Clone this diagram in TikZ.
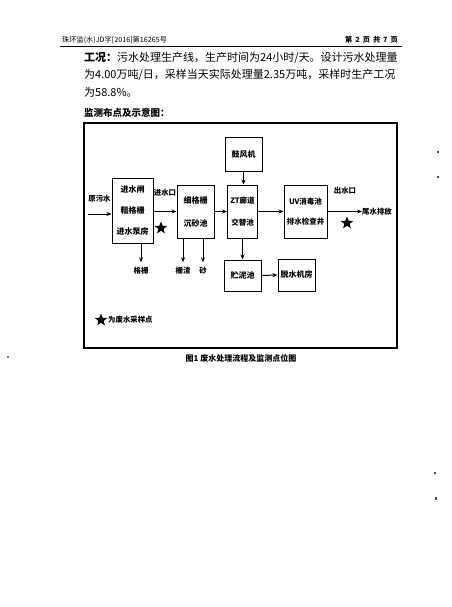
\documentclass[tikz,border=0pt]{standalone}
\usepackage{fontspec}
\setmainfont{Noto Sans CJK SC}
\usetikzlibrary{arrows.meta,shapes.geometric,calc}
\begin{document}
\begin{tikzpicture}[x=1pt,y=-1pt,
  box/.style={draw,line width=1pt,inner sep=0pt,align=center,font=\fontsize{8}{12.5}\selectfont\bfseries},
  lbl/.style={inner sep=1pt,font=\fontsize{7.4}{9}\selectfont\bfseries},
  arr/.style={line width=1pt,-{Stealth[length=5pt,width=4pt]}},
  samplestar/.style={star,star points=5,star point ratio=2.3,fill=black,inner sep=0pt,minimum size=13pt},
  body/.style={anchor=west,inner sep=0pt,font=\fontsize{11}{13}\selectfont}]
\useasboundingbox (0,0) rectangle (451,607);
\fill[white] (0,0) rectangle (451,607);
% header
\node[anchor=west,inner sep=0pt,font=\fontsize{7.2}{9}\selectfont] (hl) at (62,40) {珠环监(水)JD字[2016]第16265号};
\node[anchor=east,inner sep=0pt,font=\fontsize{7.2}{9}\selectfont\bfseries] (hr) at (398,40) {第\hspace{3pt}2\hspace{3pt}页\hspace{3pt}共\hspace{3pt}7\hspace{3pt}页};
\draw[line width=1pt] (60,47) -- (402,47);
% body
\node[body] (b1) at (84,58) {\textbf{工况：}污水处理生产线，生产时间为24小时/天。设计污水处理量};
\node[body] (b2) at (84,75) {为4.00万吨/日，采样当天实际处理量2.35万吨，采样时生产工况};
\node[body] (b3) at (84,92) {为58.8\%。};
\node[body,font=\fontsize{9.5}{11}\selectfont\bfseries] (hd) at (84,113) {监测布点及示意图：};
% frame
\draw[line width=1.2pt] (84,123) rectangle (397,348);
% boxes
\node[box,minimum width=41pt,minimum height=65pt,font=\fontsize{8}{21}\selectfont\bfseries] (inlet) at (132.5,210.5) {进水闸\\粗格栅\\进水泵房};
\node[box,minimum width=37pt,minimum height=53pt,font=\fontsize{8}{23}\selectfont\bfseries] (fine) at (195.5,211.5) {细格栅\\沉砂池};
\node[box,minimum width=30pt,minimum height=53pt,font=\fontsize{7.5}{22}\selectfont\bfseries] (zt) at (242.5,211.5) {ZT廊道\\交替池};
\node[box,minimum width=37pt,minimum height=34pt] (blower) at (243.5,154) {鼓风机};
\node[box,minimum width=43pt,minimum height=53pt,font=\fontsize{7.5}{20}\selectfont\bfseries] (uv) at (305.5,211.5) {UV消毒池\\排水检查井};
\node[box,minimum width=37pt,minimum height=31pt] (sludge) at (242.5,275.5) {贮泥池};
\node[box,minimum width=37pt,minimum height=32pt] (dewater) at (296.5,275) {脱水机房};
% labels
\node[lbl] (raw) at (99.5,199) {原污水};
\node[lbl] (inport) at (165,193) {进水口};
\node[lbl] (outport) at (345,191) {出水口};
\coordinate (rawin) at (88,214);
\coordinate (outend) at (362,211.5);
\node[lbl,anchor=west,inner sep=0pt] (tail) at (outend) {尾水排放};
\node[lbl] (gs) at (141,271) {格栅};
\node[lbl] (sz) at (183,271) {栅渣};
\node[lbl] (sa) at (203,271) {砂};
% connectors
\draw[arr] (rawin) -- (rawin -| inlet.west);
\draw[arr] (inlet.east |- fine.center) -- (fine.west);
\draw[arr] (fine.east) -- (zt.west);
\draw[arr] (zt.east) -- (uv.west);
\draw[arr] (uv.east) -- (outend);
\draw[arr] (blower.south) -- (blower.south |- zt.north);
\draw[arr,shorten >=4pt] (inlet.south -| gs.north) -- (gs.north);
\draw[arr,shorten >=4pt] (fine.south -| sz.north) -- (sz.north);
\draw[arr,shorten >=4pt] (fine.south -| sa.north) -- (sa.north);
\draw[arr] (zt.south) -- (sludge.north);
\draw[arr] (sludge.east) -- (dewater.west);
% sampling stars
\node[samplestar] (s1) at (161,228) {};
\node[samplestar] (s2) at (347,223) {};
\node[samplestar] (s3) at (101,320) {};
\node[lbl,anchor=west] (legend) at (107,320) {为废水采样点};
% caption
\node[inner sep=0pt,font=\fontsize{8}{10}\selectfont\bfseries] (cap) at (241,358) {图1\ 废水处理流程及监测点位图};
% scan specks
\fill[black!70] (437,151) rectangle (439,153);
\fill[black!70] (437,176) rectangle (439,178);
\fill[black!70] (434,472) rectangle (436,474);
\fill[black!70] (435,497) rectangle (437,500);
\fill[black!50] (7,356) rectangle (9,358);
\end{tikzpicture}
\end{document}
